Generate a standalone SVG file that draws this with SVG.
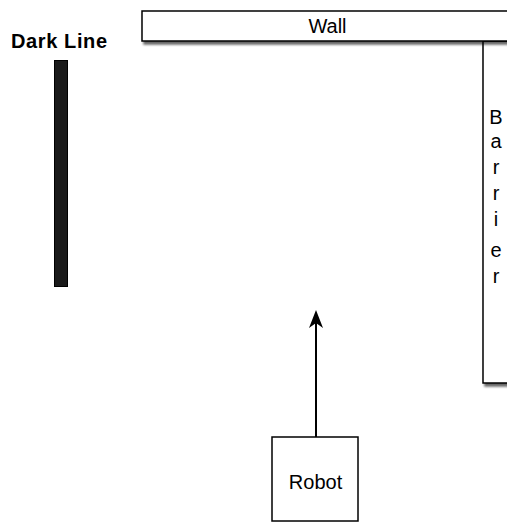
<svg xmlns="http://www.w3.org/2000/svg" width="507" height="524" viewBox="0 0 507 524">
<defs>
<style>
.box{fill:#fff;stroke:#000;stroke-width:1.5}
.lbl{font-family:"Liberation Sans",Arial,sans-serif;font-size:20px;fill:#000;text-anchor:middle}
.conn{stroke:#000;stroke-width:2;fill:none}
</style>
<filter id="sh" x="-10%" y="-10%" width="130%" height="130%">
<feGaussianBlur in="SourceAlpha" stdDeviation="1" result="b"/>
<feOffset dx="2" dy="3" result="o"/>
<feComponentTransfer in="o" result="g"><feFuncA type="linear" slope="0.6"/></feComponentTransfer>
<feMerge><feMergeNode in="g"/><feMergeNode in="SourceGraphic"/></feMerge>
</filter>
</defs>
<rect width="507" height="524" fill="#fff"/>
<g id="barrier">
<rect class="box" x="483" y="41" width="40" height="342" filter="url(#sh)"/>
<text class="lbl" x="496" y="124">B</text>
<text class="lbl" x="496" y="148">a</text>
<text class="lbl" x="496" y="174">r</text>
<text class="lbl" x="496" y="200">r</text>
<text class="lbl" x="496" y="226">i</text>
<text class="lbl" x="496" y="257">e</text>
<text class="lbl" x="496" y="283">r</text>
</g>
<g id="wall">
<rect class="box" x="142" y="11" width="380" height="30" filter="url(#sh)"/>
<text class="lbl" x="327.5" y="33">Wall</text>
</g>
<g id="dark-line">
<text class="lbl" x="59" y="48" font-weight="bold" font-size="21" textLength="96">Dark Line</text>
<rect x="54.5" y="60.5" width="13" height="226" fill="#1a1a1a" stroke="#000" stroke-width="1"/>
</g>
<g id="robot">
<rect class="box" x="272" y="437" width="86" height="84"/>
<text class="lbl" x="315.5" y="489" font-size="21">Robot</text>
</g>
<g id="connectors">
<line class="conn" x1="316" y1="437" x2="316" y2="322"/>
<path d="M316,310 L323,328 L316,323 L309,328 Z" fill="#000"/>
</g>
</svg>
